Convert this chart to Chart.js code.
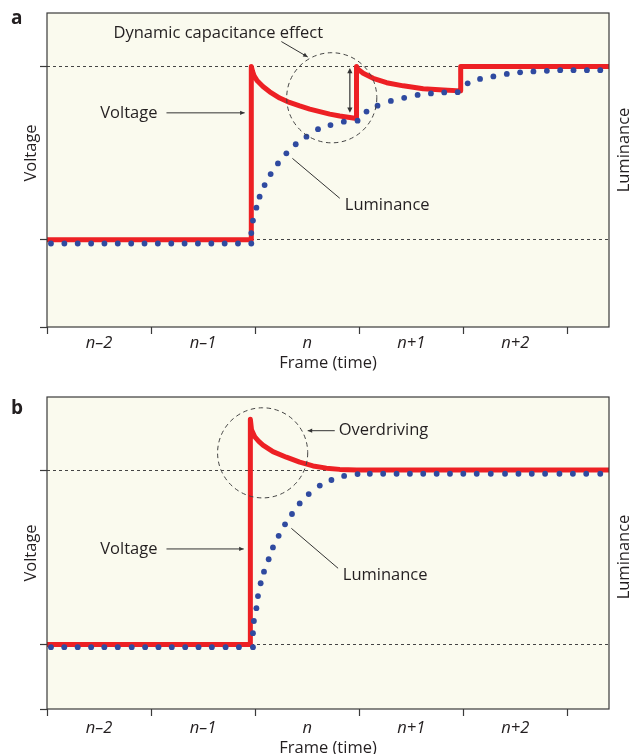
<!DOCTYPE html>
<html>
<head>
<meta charset="utf-8">
<script src="https://cdn.jsdelivr.net/npm/chart.js@4.4.1/dist/chart.umd.min.js"></script>
<style>
  html, body { margin: 0; padding: 0; background: #fff; }
  body { width: 630px; height: 754px; overflow: hidden; }
  canvas { display: block; }
</style>
</head>
<body>
<canvas id="chart-a" width="630" height="377"></canvas>
<canvas id="chart-b" width="630" height="377"></canvas>
<script>
// frame ticks (x units = frames) and the labels centred between them
var frameTicks = [0, 1, 2, 3, 4, 5];
var frameLabels = ['n\u20132', 'n\u20131', 'n', 'n+1', 'n+2'];

// panel a: dynamic capacitance effect (y in % of plot height)
var levelsA = [28.0, 83.0];
var voltageAX = [0, 1.963, 1.963, 1.975, 1.99, 2.02, 2.075, 2.140, 2.236, 2.330, 2.428, 2.525, 2.621, 2.717, 2.813, 2.974, 2.974, 2.985, 3.038, 3.134, 3.263, 3.423, 3.615, 3.808, 3.975, 3.975, 5.4];
var voltageAY = [27.8, 27.8, 83.0, 81.4, 80.0, 78.4, 76.6, 74.9, 72.9, 71.5, 70.4, 69.4, 68.6, 67.8, 67.2, 66.4, 83.0, 82.2, 80.8, 79.2, 77.8, 76.8, 75.9, 75.5, 75.2, 83.0, 83.0];
var luminanceAX = [0.038, 0.167, 0.295, 0.424, 0.552, 0.680, 0.809, 0.937, 1.065, 1.194, 1.322, 1.450, 1.579, 1.707, 1.835, 1.963,
  1.963, 1.979, 2.012, 2.043, 2.091, 2.149, 2.219, 2.300, 2.390, 2.493, 2.604, 2.724, 2.852, 2.984,
  3.070, 3.176, 3.304, 3.432, 3.561, 3.689, 3.817, 3.946,
  4.042, 4.161, 4.289, 4.418, 4.546, 4.674, 4.803, 4.931, 5.059, 5.188, 5.316];
var luminanceAY = [26.6, 26.6, 26.6, 26.6, 26.6, 26.6, 26.6, 26.6, 26.6, 26.6, 26.6, 26.6, 26.6, 26.6, 26.6, 26.6,
  29.9, 33.9, 38.0, 41.5, 45.2, 48.7, 52.1, 55.3, 58.2, 60.6, 63.0, 64.3, 65.4, 65.7,
  68.6, 70.5, 72.0, 73.0, 73.9, 74.4, 74.7, 74.8,
  77.6, 79.0, 79.8, 80.6, 81.1, 81.4, 81.6, 81.8, 81.8, 81.8, 81.8];

// panel b: overdriving
var levelsB = [20.8, 76.6];
var voltageBX = [0, 1.954, 1.954, 1.965, 1.995, 2.035, 2.075, 2.171, 2.300, 2.428, 2.556, 2.685, 2.813, 2.974, 5.4];
var voltageBY = [20.7, 20.7, 92.9, 89.5, 87.3, 85.8, 84.6, 82.5, 80.7, 79.1, 77.9, 77.2, 76.8, 76.6, 76.6];
var luminanceBX = [0.038, 0.166, 0.295, 0.424, 0.551, 0.680, 0.814, 0.943, 1.071, 1.199, 1.328, 1.456, 1.584, 1.716, 1.844, 1.979,
  1.979, 1.988, 2.012, 2.027, 2.053, 2.085, 2.130, 2.171, 2.226, 2.287, 2.354, 2.428, 2.515, 2.621, 2.733, 2.855, 2.984,
  3.102, 3.230, 3.359, 3.487, 3.615, 3.744, 3.872, 4.000, 4.129, 4.264, 4.401, 4.530, 4.658, 4.786, 4.924, 5.053, 5.181, 5.316];
var luminanceBY = [19.8, 19.8, 19.8, 19.8, 19.8, 19.8, 19.8, 19.8, 19.8, 19.8, 19.8, 19.8, 19.8, 19.8, 19.8, 19.8,
  24.3, 28.2, 32.3, 36.2, 40.3, 44.0, 48.0, 51.8, 55.5, 59.2, 62.5, 65.9, 68.9, 71.6, 73.4, 74.7, 75.3,
  75.4, 75.4, 75.4, 75.4, 75.4, 75.4, 75.4, 75.4, 75.4, 75.4, 75.4, 75.4, 75.4, 75.4, 75.4, 75.4, 75.4, 75.4];

var FONT = '"Open Sans", "Noto Sans", sans-serif';
var INK = '#231f20';
var AXIS = '#3a3a3a';
var RED = '#ed2024';
var BLUE = '#2f4aa0';
var CREAM = '#fafaee';

Chart.defaults.font.family = FONT;

function toPoints(xs, ys) {
  return xs.map(function (x, i) { return { x: x, y: ys[i] }; });
}

function arrowHead(ctx, x1, y1, x2, y2, size) {
  var a = Math.atan2(y2 - y1, x2 - x1);
  ctx.beginPath();
  ctx.moveTo(x2, y2);
  ctx.lineTo(x2 - size * Math.cos(a - 0.45), y2 - size * Math.sin(a - 0.45));
  ctx.lineTo(x2 - size * Math.cos(a + 0.45), y2 - size * Math.sin(a + 0.45));
  ctx.closePath();
  ctx.fill();
}

function rotatedText(ctx, text, x, y) {
  ctx.save();
  ctx.translate(x, y);
  ctx.rotate(-Math.PI / 2);
  ctx.textAlign = 'center';
  ctx.textBaseline = 'alphabetic';
  ctx.fillText(text, 0, 0);
  ctx.restore();
}

// background, frame, annotations and side titles
var panelDecor = {
  id: 'panelDecor',
  beforeDraw: function (chart) {
    var a = chart.chartArea, ctx = chart.ctx;
    ctx.save();
    ctx.fillStyle = CREAM;
    ctx.fillRect(a.left, a.top, a.right - a.left, a.bottom - a.top);
    ctx.restore();
  },
  afterDatasetsDraw: function (chart) {
    var a = chart.chartArea, ctx = chart.ctx;
    var sx = chart.scales.x, sy = chart.scales.y;
    var n = chart.options.plugins.panelDecor;
    var px = function (v) { return sx.getPixelForValue(v); };
    var py = function (v) { return sy.getPixelForValue(v); };

    ctx.save();
    ctx.strokeStyle = AXIS;
    ctx.lineWidth = 1.2;
    ctx.strokeRect(a.left, a.top, a.right - a.left, a.bottom - a.top);

    // dashed circles
    ctx.strokeStyle = '#444';
    ctx.lineWidth = 1;
    ctx.setLineDash([4.5, 3.5]);
    n.circles.forEach(function (c) {
      var r = px(c.x + c.r) - px(c.x);
      ctx.beginPath();
      ctx.arc(px(c.x), py(c.y), r, 0, Math.PI * 2);
      ctx.stroke();
    });
    ctx.setLineDash([]);

    // leader lines
    ctx.strokeStyle = '#333';
    ctx.fillStyle = '#333';
    n.leaders.forEach(function (l) {
      var x1 = px(l.from[0]), y1 = py(l.from[1]), x2 = px(l.to[0]), y2 = py(l.to[1]);
      ctx.beginPath();
      ctx.moveTo(x1, y1);
      ctx.lineTo(x2, y2);
      ctx.stroke();
      if (l.head) arrowHead(ctx, x1, y1, x2, y2, 5);
    });

    // double headed arrows
    ctx.lineWidth = 1.2;
    n.doubleArrows.forEach(function (d) {
      var x = px(d.x), y1 = py(d.y1), y2 = py(d.y2);
      ctx.beginPath();
      ctx.moveTo(x, y1 + 3);
      ctx.lineTo(x, y2 - 3);
      ctx.stroke();
      arrowHead(ctx, x, y2, x, y1, 6);
      arrowHead(ctx, x, y1, x, y2, 6);
    });

    // labels
    ctx.fillStyle = INK;
    ctx.font = '16.5px ' + FONT;
    ctx.textBaseline = 'middle';
    n.texts.forEach(function (t) {
      ctx.textAlign = t.align;
      ctx.fillText(t.text, px(t.x), py(t.y));
    });

    rotatedText(ctx, 'Voltage', n.leftTitle[0], n.leftTitle[1]);
    rotatedText(ctx, 'Luminance', n.rightTitle[0], n.rightTitle[1]);

    ctx.font = 'bold 19px ' + FONT;
    ctx.textAlign = 'left';
    ctx.textBaseline = 'alphabetic';
    ctx.fillText(n.letter, n.letterPos[0], n.letterPos[1]);
    ctx.restore();
  }
};

function buildPanel(canvasId, p) {
  var ctx = document.getElementById(canvasId).getContext('2d');

  return new Chart(ctx, {
    type: 'line',
    data: {
      datasets: [{
        label: 'Voltage',
        data: toPoints(p.voltX, p.voltY),
        borderColor: RED,
        borderWidth: 5,
        borderJoinStyle: 'round',
        pointRadius: 0,
        tension: 0,
        fill: false,
        order: 2
      }, {
        label: 'Luminance',
        data: toPoints(p.lumX, p.lumY),
        showLine: false,
        pointRadius: 2.9,
        pointBorderWidth: 0,
        pointBackgroundColor: BLUE,
        order: 1
      }]
    },
    options: {
      responsive: false,
      animation: false,
      events: [],
      layout: { padding: { top: p.top, right: 21, left: 0, bottom: 0 } },
      plugins: {
        legend: { display: false },
        tooltip: { enabled: false },
        panelDecor: p.notes
      },
      scales: {
        x: {
          type: 'linear',
          min: 0,
          max: 5.4,
          afterBuildTicks: function (scale) {
            var t = [];
            frameTicks.forEach(function (v, i) {
              t.push({ value: v });
              if (i < frameLabels.length) t.push({ value: v + 0.5 });
            });
            scale.ticks = t;
          },
          afterFit: function (scale) { scale.height = p.axisHeight; },
          border: { display: false },
          grid: {
            drawOnChartArea: false,
            tickLength: 7,
            tickWidth: 1.2,
            tickColor: function (c) {
              return Number.isInteger(c.tick.value) ? AXIS : 'rgba(0,0,0,0)';
            }
          },
          ticks: {
            autoSkip: false,
            maxRotation: 0,
            padding: p.tickPad,
            color: INK,
            font: { size: 16.5, style: 'italic' },
            callback: function (v) {
              return Number.isInteger(v) ? '' : frameLabels[Math.floor(v)];
            }
          },
          title: {
            display: true,
            text: 'Frame (time)',
            color: INK,
            font: { size: 16.5 },
            padding: { top: 0, bottom: p.titlePad }
          }
        },
        y: {
          type: 'linear',
          min: 0,
          max: 100,
          afterBuildTicks: function (scale) {
            scale.ticks = [0].concat(p.levels).map(function (v) { return { value: v }; });
          },
          afterFit: function (scale) { scale.width = 47; },
          border: { display: false, dash: [3, 3] },
          grid: {
            lineWidth: 1,
            tickLength: 7,
            tickWidth: 1.2,
            tickColor: AXIS,
            tickBorderDash: [],
            color: function (c) {
              return c.tick.value === 0 ? 'rgba(0,0,0,0)' : '#444';
            }
          },
          ticks: { display: false }
        }
      }
    },
    plugins: [panelDecor]
  });
}

buildPanel('chart-a', {
  top: 13, axisHeight: 50, tickPad: -1, titlePad: 3.6,
  levels: levelsA,
  voltX: voltageAX, voltY: voltageAY,
  lumX: luminanceAX, lumY: luminanceAY,
  notes: {
    letter: 'a', letterPos: [11, 24],
    leftTitle: [35.5, 153], rightTitle: [628.5, 150],
    circles: [{ x: 2.736, y: 73.0, r: 0.433 }],
    leaders: [
      { from: [1.148, 68.2], to: [1.899, 68.2], head: true },
      { from: [2.252, 90.9], to: [2.505, 86.0], head: true },
      { from: [2.813, 41.0], to: [2.358, 53.7], head: false }
    ],
    doubleArrows: [{ x: 2.910, y1: 82.5, y2: 68.2 }],
    texts: [
      { text: 'Dynamic capacitance effect', x: 0.639, y: 93.6, align: 'left' },
      { text: 'Voltage', x: 1.061, y: 68.2, align: 'right' },
      { text: 'Luminance', x: 2.862, y: 38.6, align: 'left' }
    ]
  }
});

buildPanel('chart-b', {
  top: 20, axisHeight: 45, tickPad: 2, titlePad: -4.6,
  levels: levelsB,
  voltX: voltageBX, voltY: voltageBY,
  lumX: luminanceBX, lumY: luminanceBY,
  notes: {
    letter: 'b', letterPos: [11, 37],
    leftTitle: [35.5, 176], rightTitle: [628.5, 180],
    circles: [{ x: 2.072, y: 82.1, r: 0.433 }],
    leaders: [
      { from: [1.148, 51.3], to: [1.890, 51.3], head: true },
      { from: [2.765, 89.2], to: [2.505, 89.2], head: true },
      { from: [2.797, 45.1], to: [2.348, 57.9], head: false }
    ],
    doubleArrows: [],
    texts: [
      { text: 'Overdriving', x: 2.803, y: 89.2, align: 'left' },
      { text: 'Voltage', x: 1.061, y: 51.3, align: 'right' },
      { text: 'Luminance', x: 2.842, y: 42.7, align: 'left' }
    ]
  }
});
</script>
</body>
</html>
